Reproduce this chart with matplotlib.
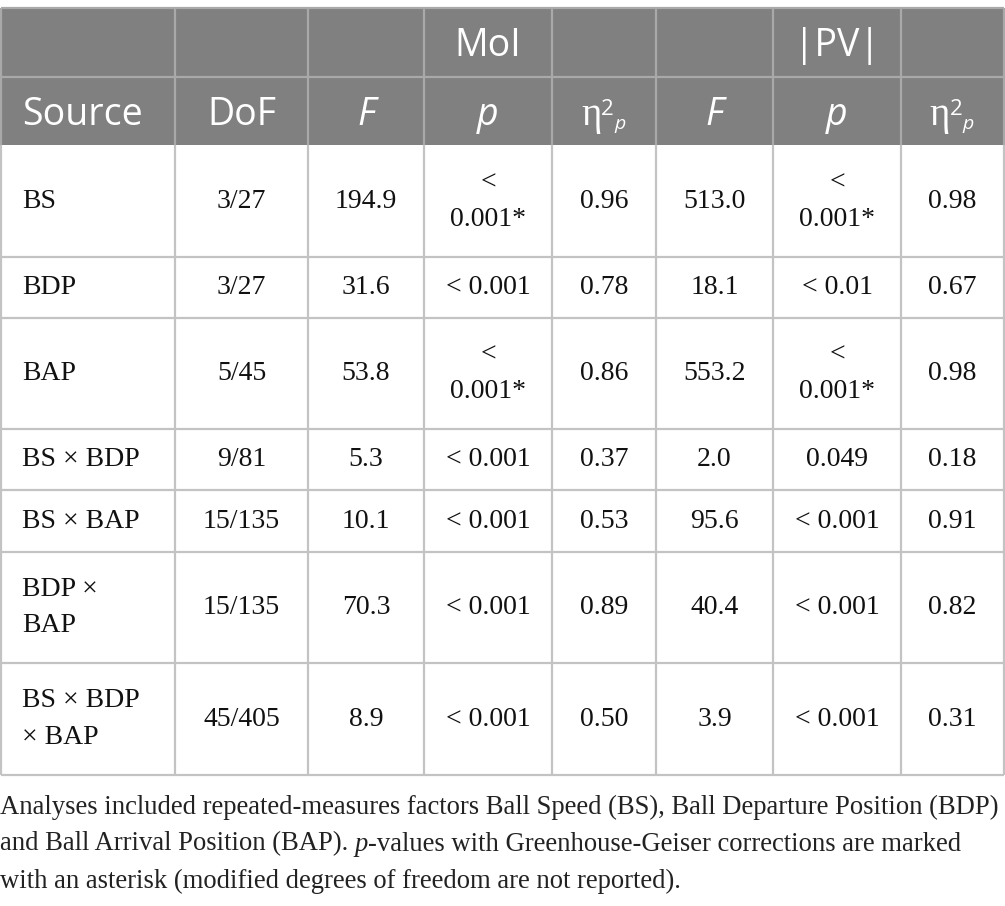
import matplotlib.pyplot as plt
from matplotlib.patches import Rectangle

# table content
sources = ["BS", "BDP", "BAP", "BS \u00d7 BDP", "BS \u00d7 BAP", "BDP \u00d7\nBAP", "BS \u00d7 BDP\n\u00d7 BAP"]
dof = ["3/27", "3/27", "5/45", "9/81", "15/135", "15/135", "45/405"]
moi_F = ["194.9", "31.6", "53.8", "5.3", "10.1", "70.3", "8.9"]
moi_p = ["<\n0.001*", "< 0.001", "<\n0.001*", "< 0.001", "< 0.001", "< 0.001", "< 0.001"]
moi_eta = ["0.96", "0.78", "0.86", "0.37", "0.53", "0.89", "0.50"]
pv_F = ["513.0", "18.1", "553.2", "2.0", "95.6", "40.4", "3.9"]
pv_p = ["<\n0.001*", "< 0.01", "<\n0.001*", "0.049", "< 0.001", "< 0.001", "< 0.001"]
pv_eta = ["0.98", "0.67", "0.98", "0.18", "0.91", "0.82", "0.31"]

group_labels = ["MoI", "|PV|"]
caption_1 = "Analyses included repeated-measures factors Ball Speed (BS), Ball Departure Position (BDP)"
caption_2a = "and Ball Arrival Position (BAP). "
caption_2b = "p"
caption_2c = "-values with Greenhouse-Geiser corrections are marked"
caption_3 = "with an asterisk (modified degrees of freedom are not reported)."

# layout (pixels)
col_edges = [1, 175, 308, 424, 552, 656, 773, 901, 1004]
row_edges = [8, 77, 145, 257, 318, 429, 490, 552, 663, 775]

HEAD_BG = "#7f807f"
HEAD_LINE = "#a9a9a9"
BODY_LINE = "#c3c3c3"
SERIF = "Liberation Serif"
SANS = "Open Sans"
HEAD_FS = 27

fig = plt.figure(figsize=(10.05, 9.06), dpi=100)
ax = fig.add_axes([0, 0, 1, 1])
ax.set_xlim(0, 1005)
ax.set_ylim(906, 0)
ax.axis("off")

# header background
ax.add_patch(Rectangle((col_edges[0], row_edges[0]), col_edges[-1] - col_edges[0],
                       row_edges[2] - row_edges[0], color=HEAD_BG, lw=0, zorder=0))

# grid lines
ax.hlines(row_edges[0], col_edges[0], col_edges[-1], color=HEAD_LINE, lw=1.6, zorder=1)
ax.hlines(row_edges[1], col_edges[0], col_edges[-1], color=HEAD_LINE, lw=1.6, zorder=1)
ax.vlines(col_edges, row_edges[0], row_edges[2], color=HEAD_LINE, lw=1.6, zorder=1)
ax.hlines(row_edges[3:], col_edges[0], col_edges[-1], color=BODY_LINE, lw=1.6, zorder=1)
ax.vlines(col_edges, row_edges[2], row_edges[-1], color=BODY_LINE, lw=1.6, zorder=1)

xc = [(a + b) / 2 for a, b in zip(col_edges[:-1], col_edges[1:])]
yc = [(a + b) / 2 for a, b in zip(row_edges[:-1], row_edges[1:])]

# header row 1
base1 = row_edges[1] - 21
for label, ci in zip(group_labels, [3, 6]):
    ax.text(xc[ci], base1, label, ha="center", va="baseline", color="white",
            fontsize=HEAD_FS, family=SANS)

# header row 2
base2 = row_edges[2] - 20
ax.text(22, base2, "Source", ha="left", va="baseline", color="white", fontsize=HEAD_FS, family=SANS)
ax.text(xc[1], base2, "DoF", ha="center", va="baseline", color="white", fontsize=HEAD_FS, family=SANS)
for ci in [2, 5]:
    ax.text(xc[ci], base2, "F", ha="center", va="baseline", color="white", fontsize=HEAD_FS,
            family=SANS, style="italic")
for ci in [3, 6]:
    ax.text(xc[ci], base2, "p", ha="center", va="baseline", color="white", fontsize=HEAD_FS,
            family=SANS, style="italic")
# eta squared, sub p
for ci in [4, 7]:
    ax.text(xc[ci] - 23, base2, "\u03b7", ha="left", va="baseline", color="white",
            fontsize=28, family=SERIF)
    ax.text(xc[ci] - 3, base2 - 10, "2", ha="left", va="baseline", color="white",
            fontsize=16, family=SANS)
    ax.text(xc[ci] + 10, base2 + 4, "p", ha="left", va="baseline", color="white",
            fontsize=14, family=SANS, style="italic")

# body
columns = [dof, moi_F, moi_p, moi_eta, pv_F, pv_p, pv_eta]
for ri, name in enumerate(sources):
    y = yc[ri + 2]
    ax.text(22, y, name, ha="left", va="center", fontsize=20, family=SERIF,
            color="#111111", linespacing=1.62)
    for ci, col in enumerate(columns, start=1):
        ax.text(xc[ci], y, col[ri], ha="center", va="center", fontsize=20, family=SERIF,
                color="#111111", linespacing=1.62, multialignment="center")

# caption
CAP_FS = 19.2
cap_kw = dict(fontsize=CAP_FS, family=SERIF, color="#222222", va="center")
ax.text(0, 807, caption_1, ha="left", **cap_kw)
t = ax.text(0, 844, caption_2a, ha="left", **cap_kw)
t = ax.annotate(caption_2b, xy=(1, 0), xycoords=t, va="bottom", style="italic",
                fontsize=CAP_FS, family=SERIF, color="#222222")
ax.annotate(caption_2c, xy=(1, 0), xycoords=t, va="bottom",
            fontsize=CAP_FS, family=SERIF, color="#222222")
ax.text(0, 881, caption_3, ha="left", **cap_kw)

fig.savefig("out.png", dpi=100)
